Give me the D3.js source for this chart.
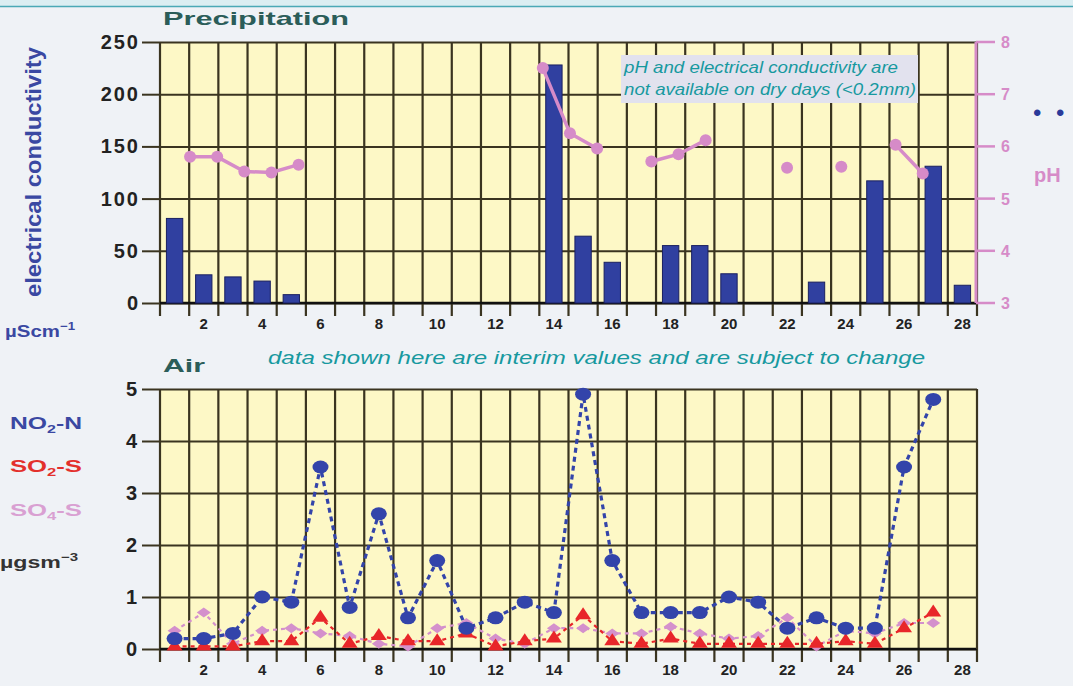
<!DOCTYPE html>
<html>
<head>
<meta charset="utf-8">
<script src="https://cdn.jsdelivr.net/npm/d3@7/dist/d3.min.js"></script>
<style>
  body { margin: 0; background: #eff2f6; font-family: Arial, "Liberation Sans", sans-serif; }
  .grid line { stroke: #3a3420; stroke-width: 2; }
  .grid .domain { display: none; }
</style>
</head>
<body>
<div id="chart"></div>
<script>
// ---- data ----
const days = d3.range(1, 29);
const evenDays = days.filter(function(d) { return d % 2 === 0; });

// precipitation: electrical conductivity (uScm-1) and pH on wet days
const wetDays = [1, 2, 3, 4, 5, 14, 15, 16, 18, 19, 20, 23, 25, 27, 28];
const ecValues = [81, 27, 25, 21, 8, 228, 64, 39, 55, 55, 28, 20, 117, 131, 17];
const phValues = [5.8, 5.8, 5.52, 5.5, 5.65, 7.5, 6.25, 5.96, 5.71, 5.85, 6.12, 5.59, 5.61, 6.03, 5.48];
const ecTicks = [0, 50, 100, 150, 200, 250];
const phTicks = [3, 4, 5, 6, 7, 8];

// air: ugsm-3
const airDays = d3.range(1, 28);
const no2 = [0.2, 0.2, 0.3, 1.0, 0.9, 3.5, 0.8, 2.6, 0.6, 1.7, 0.4, 0.6, 0.9, 0.7, 4.9, 1.7, 0.7, 0.7, 0.7, 1.0, 0.9, 0.4, 0.6, 0.4, 0.4, 3.5, 4.8];
const so2 = [0.05, 0.05, 0.05, 0.15, 0.15, 0.6, 0.1, 0.25, 0.15, 0.15, 0.3, 0.05, 0.15, 0.2, 0.65, 0.15, 0.1, 0.2, 0.1, 0.1, 0.1, 0.1, 0.1, 0.15, 0.1, 0.4, 0.7];
const so4 = [0.35, 0.7, 0.1, 0.35, 0.4, 0.3, 0.25, 0.1, 0.05, 0.4, 0.5, 0.2, 0.1, 0.4, 0.4, 0.3, 0.3, 0.43, 0.3, 0.2, 0.25, 0.6, 0.05, 0.35, 0.3, 0.5, 0.5];
const airTicks = [0, 1, 2, 3, 4, 5];

const W = 1073, H = 686;
const left = 160, width = 817;

const svg = d3.select("#chart").append("svg")
    .attr("width", W)
    .attr("height", H)
    .style("display", "block");

// page header strip
svg.append("rect").attr("x", 0).attr("y", 0).attr("width", W).attr("height", 6).attr("fill", "#dbeef2");
svg.append("line").attr("x1", 0).attr("x2", W).attr("y1", 6.5).attr("y2", 6.5)
    .attr("stroke", "#4aa9b6").attr("stroke-width", 1.5);

const x = d3.scaleBand().domain(days).range([0, width]).padding(0);
const bw = x.bandwidth();

// draws grid + x ticks shared by both panels
function drawFrame(g, y, height, ticks) {
  g.append("rect")
      .attr("width", width)
      .attr("height", height)
      .attr("fill", "#fdf8c6");

  // vertical grid at column boundaries, running below the axis as ticks
  g.append("g").selectAll("line")
    .data(d3.range(0, 29))
    .join("line")
      .attr("x1", function(i) { return i * bw; })
      .attr("x2", function(i) { return i * bw; })
      .attr("y1", 0)
      .attr("y2", height + 13)
      .attr("stroke", "#3a3420")
      .attr("stroke-width", 2.2);

  // horizontal grid + left ticks
  g.append("g")
      .attr("class", "grid")
      .call(d3.axisLeft(y).tickValues(ticks).tickSize(-width).tickFormat(""));
  g.append("g")
      .attr("class", "grid")
      .call(d3.axisLeft(y).tickValues(ticks).tickSize(18).tickFormat(""));

  // baseline
  g.append("line")
      .attr("x1", 0).attr("x2", width)
      .attr("y1", height).attr("y2", height)
      .attr("stroke", "#111").attr("stroke-width", 2.5);

  // even-day labels at column centres
  g.append("g").selectAll("text")
    .data(evenDays)
    .join("text")
      .attr("x", function(d) { return x(d) + bw / 2; })
      .attr("y", height + 26)
      .attr("text-anchor", "middle")
      .attr("font-size", 15)
      .attr("font-weight", "bold")
      .attr("fill", "#222")
      .text(function(d) { return d; });
}

// ================= Precipitation =================
const topY = 42, topH = 261;
const gTop = svg.append("g").attr("transform", "translate(" + left + "," + topY + ")");

const yEc = d3.scaleLinear().domain([0, 250]).range([topH, 0]);
const yPh = d3.scaleLinear().domain([3, 8]).range([topH, 0]);
// pH points are plotted on their own slightly narrower day scale
const xPh = d3.scaleLinear().domain([1, 28]).range([bw * 1.03, width - bw * 1.86]);

drawFrame(gTop, yEc, topH, ecTicks);

gTop.append("g").selectAll("text")
  .data(ecTicks)
  .join("text")
    .attr("x", -20)
    .attr("y", function(d) { return yEc(d) + 7; })
    .attr("text-anchor", "end")
    .attr("font-size", 20)
    .attr("font-weight", "bold")
    .attr("letter-spacing", 2)
    .attr("fill", "#222")
    .text(function(d) { return d; });

// bars
const ecData = wetDays.map(function(d, i) { return { day: d, ec: ecValues[i], ph: phValues[i] }; });
const barW = bw * 0.56;
gTop.append("g").selectAll("rect")
  .data(ecData)
  .join("rect")
    .attr("x", function(d) { return x(d.day) + (bw - barW) / 2; })
    .attr("y", function(d) { return yEc(d.ec); })
    .attr("width", barW)
    .attr("height", function(d) { return topH - yEc(d.ec); })
    .attr("fill", "#3040a0")
    .attr("stroke", "#1a2060")
    .attr("stroke-width", 1);

// pH right axis
const pink = "#d68bc8";
gTop.append("line")
    .attr("x1", width - 1).attr("x2", width - 1)
    .attr("y1", 0).attr("y2", topH)
    .attr("stroke", pink).attr("stroke-width", 3);
gTop.append("g").selectAll("line")
  .data(phTicks)
  .join("line")
    .attr("x1", width - 1).attr("x2", width + 18)
    .attr("y1", function(d) { return yPh(d); })
    .attr("y2", function(d) { return yPh(d); })
    .attr("stroke", pink).attr("stroke-width", 2.5);
gTop.append("g").selectAll("text")
  .data(phTicks)
  .join("text")
    .attr("x", width + 24)
    .attr("y", function(d) { return yPh(d) + 6; })
    .attr("font-size", 16)
    .attr("font-weight", "bold")
    .attr("fill", pink)
    .text(function(d) { return d; });

// pH line: break where days are not consecutive
const phLine = d3.line()
    .defined(function(d) { return d != null; })
    .x(function(d) { return xPh(d.day); })
    .y(function(d) { return yPh(d.ph); });
const phSeq = days.map(function(d) { return ecData.find(function(e) { return e.day === d; }) || null; });
gTop.append("path")
    .datum(phSeq)
    .attr("d", phLine)
    .attr("fill", "none")
    .attr("stroke", pink)
    .attr("stroke-width", 3.5);
gTop.append("g").selectAll("circle")
  .data(ecData)
  .join("circle")
    .attr("cx", function(d) { return xPh(d.day); })
    .attr("cy", function(d) { return yPh(d.ph); })
    .attr("r", 6)
    .attr("fill", pink);

// note box
const note = gTop.append("g").attr("transform", "translate(461,13)");
note.append("rect")
    .attr("width", 297).attr("height", 48)
    .attr("fill", "#e2e2ee");
note.append("text")
    .attr("x", 3).attr("y", 18)
    .attr("font-size", 16.5).attr("font-style", "italic").attr("fill", "#17999f")
    .attr("textLength", 274).attr("lengthAdjust", "spacingAndGlyphs")
    .text("pH and electrical conductivity are");
note.append("text")
    .attr("x", 3).attr("y", 40)
    .attr("font-size", 16.5).attr("font-style", "italic").attr("fill", "#17999f")
    .attr("textLength", 292).attr("lengthAdjust", "spacingAndGlyphs")
    .text("not available on dry days (<0.2mm)");

// labels
svg.append("text")
    .attr("x", 163).attr("y", 25)
    .attr("font-size", 19).attr("font-weight", "bold").attr("fill", "#2b5d59")
    .attr("textLength", 186).attr("lengthAdjust", "spacingAndGlyphs")
    .text("Precipitation");
svg.append("text")
    .attr("transform", "translate(41,172) rotate(-90)")
    .attr("text-anchor", "middle")
    .attr("font-size", 22).attr("font-weight", "bold").attr("fill", "#3a48a2")
    .attr("textLength", 250).attr("lengthAdjust", "spacingAndGlyphs")
    .text("electrical conductivity");
svg.append("text")
    .attr("x", 5).attr("y", 337)
    .attr("font-size", 17).attr("font-weight", "bold").attr("fill", "#3a48a2")
    .attr("textLength", 70).attr("lengthAdjust", "spacingAndGlyphs")
    .text("µScm")
  .append("tspan")
    .attr("dy", -7).attr("font-size", 11)
    .text("−1");
svg.append("text")
    .attr("x", 1034).attr("y", 182)
    .attr("font-size", 20).attr("font-weight", "bold").attr("fill", pink)
    .text("pH");
svg.append("text")
    .attr("x", 1033).attr("y", 121)
    .attr("font-size", 24).attr("fill", "#2a3a9a")
    .attr("letter-spacing", 4)
    .text("• •");

// ================= Air =================
const botY = 389, botH = 260;
const gBot = svg.append("g").attr("transform", "translate(" + left + "," + botY + ")");
const yAir = d3.scaleLinear().domain([0, 5]).range([botH, 0]);

drawFrame(gBot, yAir, botH, airTicks);
gBot.append("line")
    .attr("x1", width).attr("x2", width).attr("y1", 0).attr("y2", botH)
    .attr("stroke", "#3a3420").attr("stroke-width", 2);

gBot.append("g").selectAll("text")
  .data(airTicks)
  .join("text")
    .attr("x", -23)
    .attr("y", function(d) { return yAir(d) + 7; })
    .attr("text-anchor", "end")
    .attr("font-size", 20)
    .attr("font-weight", "bold")
    .attr("fill", "#222")
    .text(function(d) { return d; });

const cx = function(d) { return x(d.day) + bw / 2; };
const cy = function(d) { return yAir(d.v); };
const airLine = d3.line().x(cx).y(cy);

const series = [
  { name: "SO4", values: so4, color: "#d490cc", width: 2.2, dash: "4,4" },
  { name: "SO2", values: so2, color: "#e8262a", width: 2.2, dash: "4,4" },
  { name: "NO2", values: no2, color: "#3344aa", width: 3.2, dash: "5,4" }
];

series.forEach(function(s) {
  const pts = airDays.map(function(d, i) { return { day: d, v: s.values[i] }; });
  gBot.append("path")
      .datum(pts)
      .attr("d", airLine)
      .attr("fill", "none")
      .attr("stroke", s.color)
      .attr("stroke-width", s.width)
      .attr("stroke-dasharray", s.dash);

  const m = gBot.append("g").selectAll("path")
    .data(pts)
    .join("path")
      .attr("transform", function(d) { return "translate(" + cx(d) + "," + cy(d) + ")"; })
      .attr("fill", s.color);
  if (s.name === "NO2") {
    m.attr("d", "M-8,0 a8,6.5 0 1,0 16,0 a8,6.5 0 1,0 -16,0 Z");
  } else if (s.name === "SO2") {
    m.attr("d", "M0,-8 L8,4 L-8,4 Z");
  } else {
    m.attr("d", "M0,-5 L7,0 L0,5 L-7,0 Z");
  }
});

svg.append("text")
    .attr("x", 163).attr("y", 372)
    .attr("font-size", 19).attr("font-weight", "bold").attr("fill", "#2b5d59")
    .attr("textLength", 42).attr("lengthAdjust", "spacingAndGlyphs")
    .text("Air");
svg.append("text")
    .attr("x", 268).attr("y", 364)
    .attr("font-size", 19).attr("font-style", "italic").attr("fill", "#17999f")
    .attr("textLength", 657).attr("lengthAdjust", "spacingAndGlyphs")
    .text("data shown here are interim values and are subject to change");

// legend
const legend = [
  { main: "NO", sub: "2", rest: "-N", color: "#3a48a2", y: 429 },
  { main: "SO", sub: "2", rest: "-S", color: "#e3302c", y: 472 },
  { main: "SO", sub: "4", rest: "-S", color: "#d9a0d2", y: 516 }
];
legend.forEach(function(l) {
  const t = svg.append("text")
      .attr("x", 10).attr("y", l.y)
      .attr("font-size", 17).attr("font-weight", "bold").attr("fill", l.color)
      .attr("textLength", 72).attr("lengthAdjust", "spacingAndGlyphs");
  t.append("tspan").text(l.main);
  t.append("tspan").attr("dy", 4).attr("font-size", 11).text(l.sub);
  t.append("tspan").attr("dy", -4).text(l.rest);
});
svg.append("text")
    .attr("x", 0).attr("y", 568)
    .attr("font-size", 17).attr("font-weight", "bold").attr("fill", "#333")
    .attr("textLength", 78).attr("lengthAdjust", "spacingAndGlyphs")
    .text("µgsm")
  .append("tspan")
    .attr("dy", -7).attr("font-size", 11)
    .text("−3");
</script>
</body>
</html>
